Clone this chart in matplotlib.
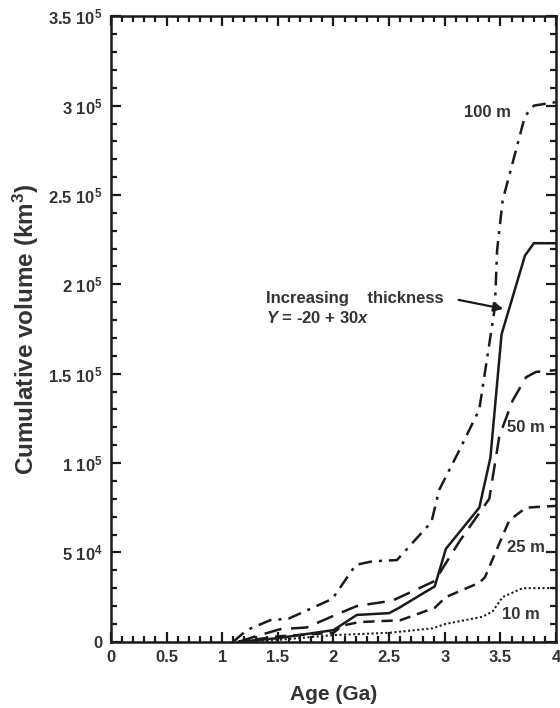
import matplotlib
matplotlib.use("Agg")
import matplotlib.pyplot as plt
from matplotlib.ticker import MultipleLocator, FixedLocator, FixedFormatter

plt.rcParams['font.family'] = ['Liberation Sans', 'DejaVu Sans']
plt.rcParams['font.weight'] = 'bold'
plt.rcParams['mathtext.fontset'] = 'custom'
plt.rcParams['mathtext.rm'] = 'Liberation Sans:bold'
plt.rcParams['mathtext.it'] = 'Liberation Sans:bold:italic'
plt.rcParams['mathtext.bf'] = 'Liberation Sans:bold'
plt.rcParams['mathtext.default'] = 'rm'

# Data (Age in Ga, cumulative volume in km^3)
x100 = [1.1, 1.22, 1.43, 1.6, 1.99, 2.2, 2.35, 2.57, 2.88, 2.95, 3.13, 3.31, 3.45, 3.47, 3.52, 3.72, 3.8, 4.0]
y100 = [0, 6500, 12000, 13000, 24000, 43000, 45000, 45700, 67000, 85000, 107000, 130000, 187000, 219000, 247000, 294000, 300000, 302000]

xinc = [1.15, 1.5, 2.0, 2.21, 2.5, 2.59, 2.91, 3.01, 3.31, 3.41, 3.51, 3.72, 3.8, 4.0]
yinc = [0, 2000, 6500, 15000, 16000, 19000, 31000, 52000, 75000, 103000, 172000, 216000, 223000, 223000]

x50 = [1.15, 1.3, 1.52, 1.76, 2.0, 2.21, 2.53, 2.91, 3.13, 3.40, 3.49, 3.61, 3.73, 3.82, 4.0]
y50 = [0, 3000, 7000, 8000, 14500, 20000, 23000, 34000, 56000, 80000, 115000, 135000, 148000, 151000, 152000]

x25 = [1.15, 1.5, 2.0, 2.08, 2.23, 2.6, 2.91, 3.01, 3.31, 3.36, 3.49, 3.58, 3.73, 3.85, 4.0]
y25 = [0, 3000, 5000, 9000, 11000, 12000, 19000, 25000, 33000, 36000, 55000, 68000, 75000, 75500, 76000]

x10 = [1.15, 1.5, 2.0, 2.5, 2.89, 3.01, 3.34, 3.43, 3.52, 3.7, 3.85, 4.0]
y10 = [0, 1000, 3700, 5000, 7500, 10000, 14000, 17000, 25000, 30000, 30000, 30000]

yticks = [0, 50000, 100000, 150000, 200000, 250000, 300000, 350000]
ytick_labels = ['0', '5 10$^4$', '1 10$^5$', '1.5 10$^5$', '2 10$^5$', '2.5 10$^5$', '3 10$^5$', '3.5 10$^5$']
xticks = [0, 0.5, 1, 1.5, 2, 2.5, 3, 3.5, 4]
xtick_labels = ['0', '0.5', '1', '1.5', '2', '2.5', '3', '3.5', '4']

fig = plt.figure(figsize=(5.6, 7.08), dpi=100)
ax = fig.add_axes([0.198, 0.0936, 0.795, 0.8834])

ax.plot(x100, y100, color='#1a1a1a', lw=1.8, dashes=(5.5, 2.8, 1.2, 2.8))
ax.plot(xinc, yinc, color='#1a1a1a', lw=1.8, ls='-')
ax.plot(x50, y50, color='#1a1a1a', lw=1.8, dashes=(7, 3.8))
ax.plot(x25, y25, color='#1a1a1a', lw=1.8, dashes=(4.5, 2.8))
ax.plot(x10, y10, color='#1a1a1a', lw=1.5, dashes=(1, 1.2))

ax.set_xlim(0, 4)
ax.set_ylim(0, 350000)
ax.xaxis.set_major_locator(FixedLocator(xticks))
ax.xaxis.set_major_formatter(FixedFormatter(xtick_labels))
ax.xaxis.set_minor_locator(MultipleLocator(0.1))
ax.yaxis.set_major_locator(FixedLocator(yticks))
ax.yaxis.set_major_formatter(FixedFormatter(ytick_labels))
ax.yaxis.set_minor_locator(MultipleLocator(10000))
ax.tick_params(which='both', direction='in', top=True, right=True, width=1.6, colors='#1a1a1a',
               labelsize=12, labelcolor='#333333')
ax.tick_params(which='major', length=7, pad=6)
ax.tick_params(which='minor', length=4)
for s in ax.spines.values():
    s.set_linewidth(1.8)
    s.set_color('#1a1a1a')

ax.set_xlabel('Age (Ga)', fontsize=15, fontweight='bold', color='#333333', labelpad=14)
ax.set_ylabel('Cumulative volume (km$^3$)', fontsize=17.5, fontweight='bold', color='#333333', labelpad=5)

tk = dict(fontsize=12, fontweight='bold', color='#333333', ha='center', va='center')
ax.text(3.38, 296000, '100 m', **tk)
ax.text(3.73, 120000, '50 m', **tk)
ax.text(3.73, 53000, '25 m', **tk)
ax.text(3.68, 15000, '10 m', **tk)

ax.text(1.39, 192000, 'Increasing    thickness', fontsize=12, fontweight='bold', color='#333333',
        ha='left', va='center')
ax.text(1.39, 181000, r'$\mathit{Y}$ = -20 + 30$\mathit{x}$', fontsize=12, fontweight='bold', color='#333333',
        ha='left', va='center')
ax.annotate('', xy=(3.55, 186000), xytext=(3.1, 191600),
            arrowprops=dict(arrowstyle='-|>', color='#1a1a1a', lw=1.6, mutation_scale=14))

fig.savefig('out.png', dpi=100)
